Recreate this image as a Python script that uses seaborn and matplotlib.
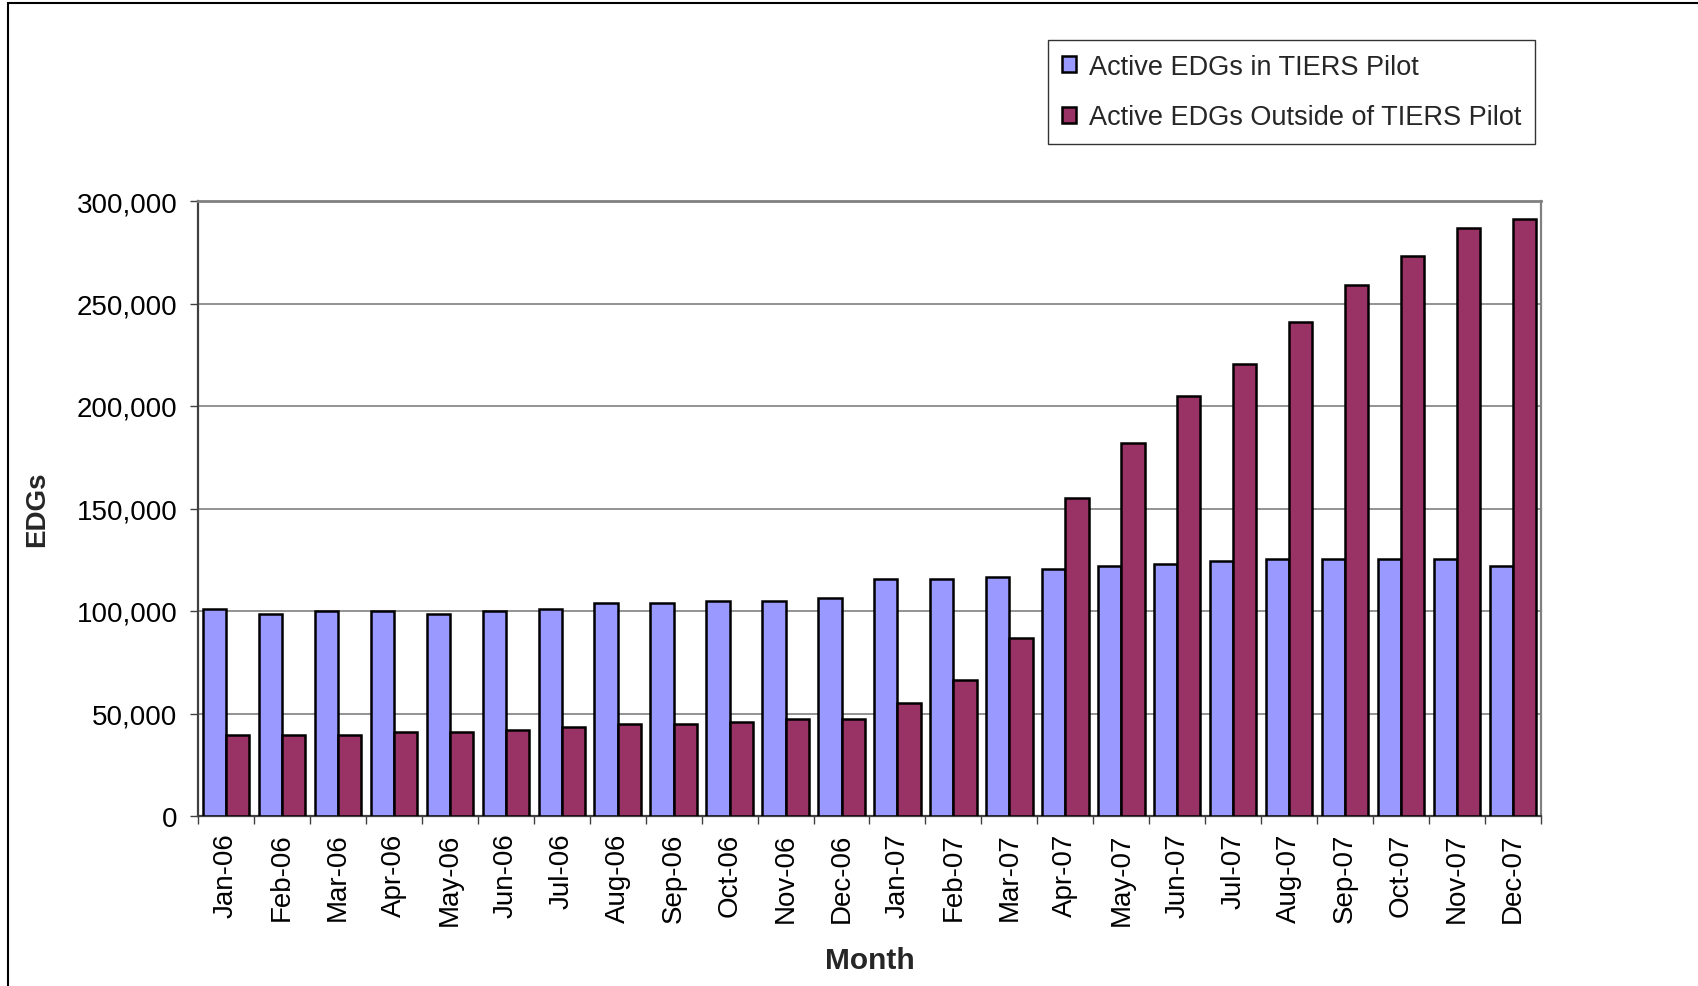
import matplotlib
matplotlib.use("Agg")
import matplotlib.pyplot as plt
import matplotlib.ticker as mticker
from matplotlib.patches import Rectangle
import numpy as np
import pandas as pd
import seaborn as sns

# Monthly counts of active EDGs
months = ["Jan-06", "Feb-06", "Mar-06", "Apr-06", "May-06", "Jun-06",
          "Jul-06", "Aug-06", "Sep-06", "Oct-06", "Nov-06", "Dec-06",
          "Jan-07", "Feb-07", "Mar-07", "Apr-07", "May-07", "Jun-07",
          "Jul-07", "Aug-07", "Sep-07", "Oct-07", "Nov-07", "Dec-07"]
in_pilot = [101000, 98500, 100000, 100000, 98500, 100000,
            101000, 104000, 104000, 105000, 105000, 106500,
            115500, 115500, 116500, 120500, 122000, 123000,
            124500, 125500, 125500, 125500, 125500, 122000]
outside_pilot = [39500, 39500, 39500, 41000, 41000, 42000,
                 43500, 45000, 45000, 46000, 47500, 47500,
                 55000, 66500, 87000, 155000, 182000, 205000,
                 220500, 241000, 259000, 273000, 287000, 291000]
series_names = ["Active EDGs in TIERS Pilot", "Active EDGs Outside of TIERS Pilot"]
y_ticks = [0, 50000, 100000, 150000, 200000, 250000, 300000]

df = pd.DataFrame({
    "Month": months * 2,
    "EDGs": in_pilot + outside_pilot,
    "Series": [series_names[0]] * len(months) + [series_names[1]] * len(months),
})

sns.set_style("white")
plt.rcParams["font.family"] = ["Liberation Sans", "DejaVu Sans"]

W, H = 1699, 987
fig = plt.figure(figsize=(W / 100, H / 100), dpi=100)
fig.patch.set_facecolor("white")

left, right, top, bottom = 198, 1541, 202, 817
ax = fig.add_axes([left / W, 1 - bottom / H, (right - left) / W, (bottom - top) / H])

sns.barplot(data=df, x="Month", y="EDGs", hue="Series", order=months,
            hue_order=series_names, palette=["#9999FF", "#993366"],
            saturation=1, width=0.83, edgecolor="black", linewidth=1.8,
            ax=ax, zorder=3)

ax.set_xlim(-0.5, len(months) - 0.5)
ax.set_ylim(0, 300000)
ax.set_yticks(y_ticks)
ax.yaxis.set_major_formatter(mticker.FuncFormatter(lambda v, p: f"{int(v):,}"))

ax.set_axisbelow(True)
ax.yaxis.grid(True, color="#808080", linewidth=1.2)
ax.xaxis.grid(False)

# category labels without ticks; tick marks at group boundaries
ax.set_xticks(range(len(months)))
ax.set_xticklabels(months, rotation=90)
ax.set_xticks(np.arange(-0.5, len(months), 1.0), minor=True)
ax.tick_params(axis="x", which="major", length=0, pad=12, labelsize=20, colors="black")
ax.tick_params(axis="x", which="minor", length=6, width=1.0, color="#404040", direction="out")
ax.tick_params(axis="y", which="major", length=6, width=1.0, color="#404040",
               direction="out", pad=9, labelsize=20, labelcolor="black")
ax.tick_params(left=True, bottom=True)
ax.xaxis.set_tick_params(which="minor", bottom=True)

for side, col, lw in [("top", "#808080", 2.0), ("right", "#808080", 1.6),
                      ("left", "#404040", 1.6), ("bottom", "#404040", 1.6)]:
    ax.spines[side].set_visible(True)
    ax.spines[side].set_color(col)
    ax.spines[side].set_linewidth(lw)

ax.set_xlabel("Month", fontsize=21.5, fontweight="bold")
ax.set_ylabel("EDGs", fontsize=20, fontweight="bold")
ax.xaxis.set_label_coords(0.5, (bottom - 947) / (bottom - top))
ax.yaxis.set_label_coords((50 - left) / (right - left), 0.5)

# legend above the plot area
handles, labels = ax.get_legend_handles_labels()
ax.get_legend().remove()
leg = fig.legend(handles, labels, loc="upper left",
                 bbox_to_anchor=(1048 / W, 1 - 41 / H),
                 fontsize=19.5, frameon=True, fancybox=False, shadow=False,
                 handlelength=0.55, handleheight=0.55, handletextpad=0.45,
                 labelspacing=0.92, borderpad=0.5, borderaxespad=0.0)
leg.get_frame().set_edgecolor("black")
leg.get_frame().set_linewidth(1.0)

# outer chart border
fig.patches.append(Rectangle((8 / W, -0.1), 1.2, 1.1 - 4 / H, fill=False,
                             edgecolor="black", linewidth=1.5,
                             transform=fig.transFigure, figure=fig))

fig.savefig("out.png", dpi=100, facecolor="white")
